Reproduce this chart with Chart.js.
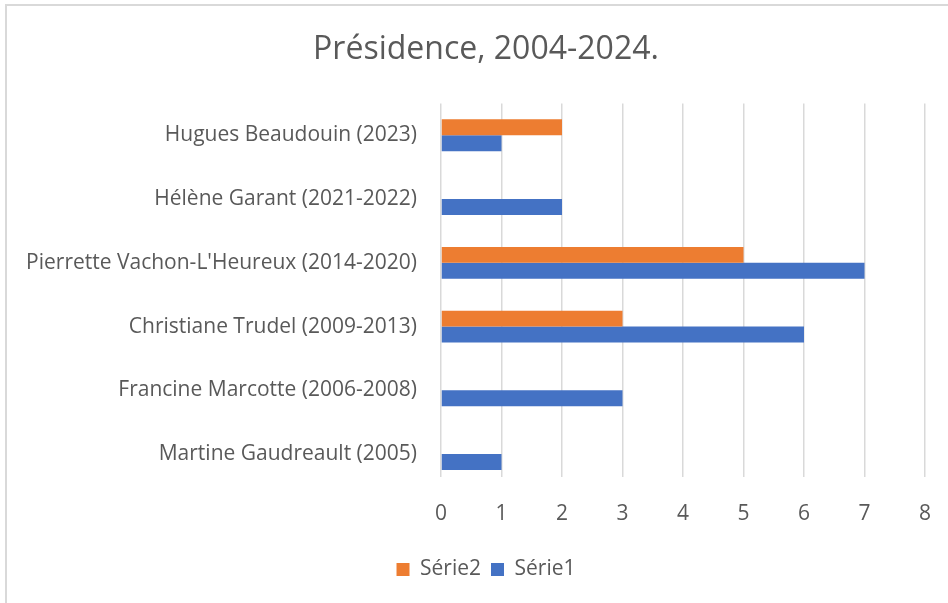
<!DOCTYPE html>
<html>
<head>
<meta charset="utf-8">
<script src="https://cdn.jsdelivr.net/npm/chart.js@4.4.0/dist/chart.umd.min.js"></script>
<style>
    html, body { margin: 0; padding: 0; background: #ffffff; }
    #wrap { position: relative; width: 948px; height: 603px; }
    #cadre {
        position: absolute; left: 5px; top: 4px; width: 960px; height: 620px;
        border-left: 2px solid #d9d9d9; border-top: 2px solid #d9d9d9;
        pointer-events: none;
    }
</style>
</head>
<body>
<div id="wrap">
    <canvas id="PresidenceChart" width="948" height="603"></canvas>
    <div id="cadre"></div>
</div>
<script>
// donnees du graphique
var categories = [
    "Hugues Beaudouin (2023)",
    "Hélène Garant (2021-2022)",
    "Pierrette Vachon-L'Heureux (2014-2020)",
    "Christiane Trudel (2009-2013)",
    "Francine Marcotte (2006-2008)",
    "Martine Gaudreault (2005)"
];
var serie1 = [1, 2, 7, 6, 3, 1];
var serie2 = [2, null, 5, 3, null, null];
var xTicks = [0, 1, 2, 3, 4, 5, 6, 7, 8];

var policeTexte = "'Open Sans', Lato, sans-serif";
var couleurTexte = "#595959";

// les lignes de quadrillage s'arretent un peu avant le bas de la zone (comme Excel)
var coupeQuadrillage = {
    id: 'coupeQuadrillage',
    beforeDatasetsDraw: function (chart) {
        var ctx = chart.ctx;
        var area = chart.chartArea;
        ctx.save();
        ctx.fillStyle = '#ffffff';
        ctx.fillRect(area.left - 2, area.bottom - 9, area.right - area.left + 4, 10);
        ctx.restore();
    }
};

const data = {
    labels: categories,
    datasets: [{
        label: 'Série2',
        backgroundColor: '#ED7D31',
        data: serie2,
        categoryPercentage: 0.5,
        barPercentage: 1.0
    }, {
        label: 'Série1',
        backgroundColor: '#4472C4',
        data: serie1,
        categoryPercentage: 0.5,
        barPercentage: 1.0
    }]
};

const config = {
    type: 'bar',
    data: data,
    options: {
        indexAxis: 'y',
        responsive: false,
        animation: false,
        layout: {
            padding: { left: 47, right: 23, top: 0, bottom: 13 }
        },
        plugins: {
            title: {
                display: true,
                text: 'Présidence, 2004-2024.',
                color: couleurTexte,
                font: { family: policeTexte, size: 32, weight: 'normal' },
                padding: { top: 31, bottom: 34 }
            },
            legend: {
                position: 'bottom',
                labels: {
                    color: couleurTexte,
                    font: { family: policeTexte, size: 21 },
                    boxWidth: 13,
                    boxHeight: 13,
                    padding: 10
                }
            },
            tooltip: { enabled: false }
        },
        scales: {
            x: {
                min: 0,
                max: 8,
                afterBuildTicks: function (scale) {
                    scale.ticks = xTicks.map(function (v) { return { value: v }; });
                },
                afterFit: function (scale) {
                    scale.height = 63;
                },
                grid: { color: '#D9D9D9', lineWidth: 1.5, drawTicks: false },
                border: { display: false },
                ticks: {
                    color: couleurTexte,
                    font: { family: policeTexte, size: 21 },
                    padding: 15
                }
            },
            y: {
                grid: { display: false, drawTicks: false },
                border: { display: false },
                afterFit: function (scale) {
                    scale.width = 394;
                    // les libelles longs depassent a gauche, ne pas les couper
                    scale._computeLabelArea = function () { return undefined; };
                },
                ticks: {
                    color: couleurTexte,
                    font: { family: policeTexte, size: 21 },
                    padding: 24
                }
            }
        }
    },
    plugins: [coupeQuadrillage]
};

var myChart = new Chart(document.getElementById("PresidenceChart"), config);
</script>
</body>
</html>
